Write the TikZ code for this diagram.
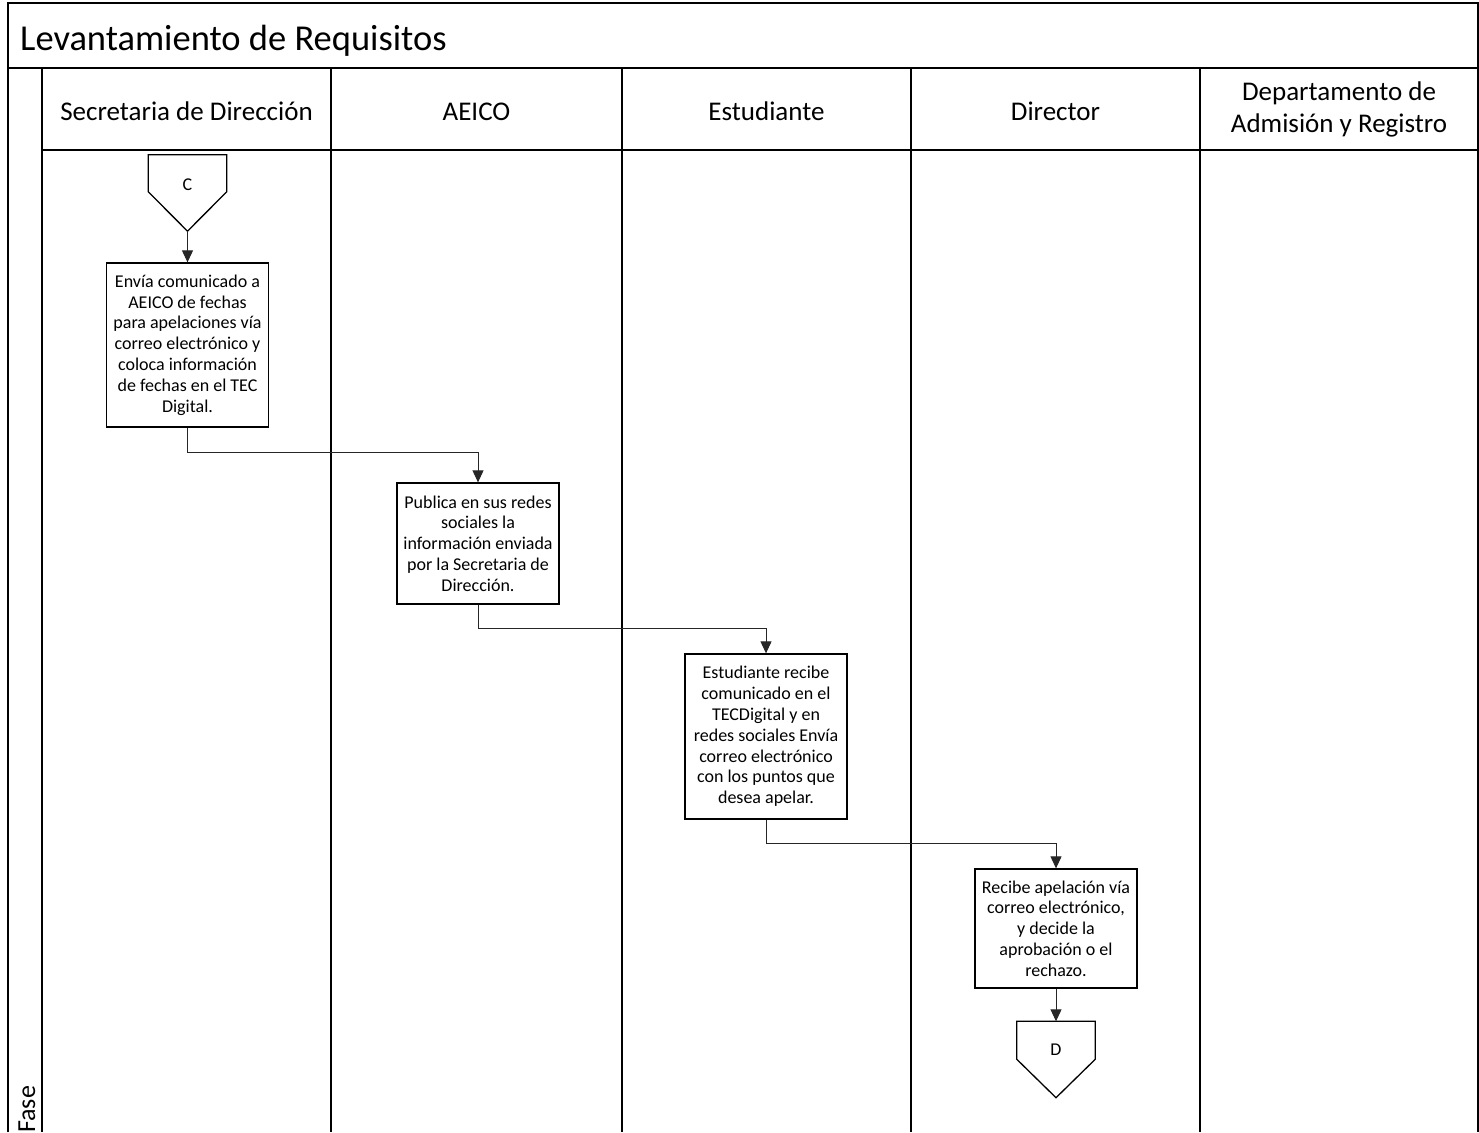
\documentclass[tikz,border=0pt]{standalone}
\usepackage{fontspec}
\setmainfont{Carlito}
\usetikzlibrary{arrows.meta}

\begin{document}
\begin{tikzpicture}[x=1pt,y=-1pt,
  frame/.style={line width=1.5pt,black},
  lanetitle/.style={font=\fontsize{27}{32}\selectfont,align=center,inner sep=0pt},
  stepbox/.style={draw,line width=1.3pt,minimum width=162pt,align=center,
    inner sep=0pt,font=\fontsize{18}{20.8}\selectfont},
  offpage/.style={minimum width=78pt,minimum height=76pt,inner sep=0pt},
  pentagon/.style={draw,line width=1.3pt},
  flow/.style={line width=1pt,black!85,-{Triangle[length=12pt,width=11pt]}},
]
\useasboundingbox (0,0) rectangle (1479,1132);

% pool frame, title row, phase column and lane dividers
\draw[frame] (8,1132) -- (8,3) -- (1478,3) -- (1478,1132);
\draw[frame] (8,68) -- (1478,68);
\draw[frame] (42,68) -- (42,1132);
\draw[frame] (42,150) -- (1478,150);
\foreach \xx in {331,622,911,1200}
  \draw[frame] (\xx,68) -- (\xx,1132);

\node[anchor=base west,inner sep=0pt,font=\fontsize{36.5}{42}\selectfont] (title) at (20,51) {Levantamiento de Requisitos};
\node[anchor=base west,inner sep=0pt,rotate=90,font=\fontsize{26}{30}\selectfont] (fase) at (35,1133) {Fase};

% lane headers
\node[lanetitle,anchor=base] (l1) at (186.5,120) {Secretaria de Dirección};
\node[lanetitle,anchor=base] (l2) at (476.5,120) {AEICO};
\node[lanetitle,anchor=base] (l3) at (766.5,120) {Estudiante};
\node[lanetitle,anchor=base] (l4) at (1055.5,120) {Director};
\node[lanetitle] (l5) at (1339,109) {Departamento de\\Admisión y Registro};

% off-page connector C
\node[offpage] (C) at (187.5,193) {};
\draw[pentagon] (C.north west) -- (C.north east) -- ([yshift=-37pt]C.north east)
  -- (C.south) -- ([yshift=-37pt]C.north west) -- cycle;
\node[font=\fontsize{18}{20}\selectfont] (Clabel) at ([yshift=-30pt]C.north) {C};

% process steps
\node[stepbox,minimum height=164pt] (b1) at (187.5,345)
  {Envía comunicado a\\AEICO de fechas\\para apelaciones vía\\correo electrónico y\\coloca información\\de fechas en el TEC\\Digital.};
\node[stepbox,minimum height=121pt] (b2) at (478,543.5)
  {Publica en sus redes\\sociales la\\información enviada\\por la Secretaria de\\Dirección.};
\node[stepbox,minimum height=165pt] (b3) at (766,736.5)
  {Estudiante recibe\\comunicado en el\\TECDigital y en\\redes sociales Envía\\correo electrónico\\con los puntos que\\desea apelar.};
\node[stepbox,minimum height=119pt] (b4) at (1056,928.5)
  {Recibe apelación vía\\correo electrónico,\\y decide la\\aprobación o el\\rechazo.};

% off-page connector D
\node[offpage] (D) at (1056,1059.5) {};
\draw[pentagon] (D.north west) -- (D.north east) -- ([yshift=-38pt]D.north east)
  -- (D.south) -- ([yshift=-38pt]D.north west) -- cycle;
\node[font=\fontsize{18}{20}\selectfont] (Dlabel) at ([yshift=-28pt]D.north) {D};

% flow
\draw[flow] (C.south) -- (b1.north);
\draw[flow] (b1.south) -- ++(0,25) -| (b2.north);
\draw[flow] (b2.south) -- ++(0,24) -| (b3.north);
\draw[flow] (b3.south) -- ++(0,24) -| (b4.north);
\draw[flow] (b4.south) -- (D.north);
\end{tikzpicture}
\end{document}
